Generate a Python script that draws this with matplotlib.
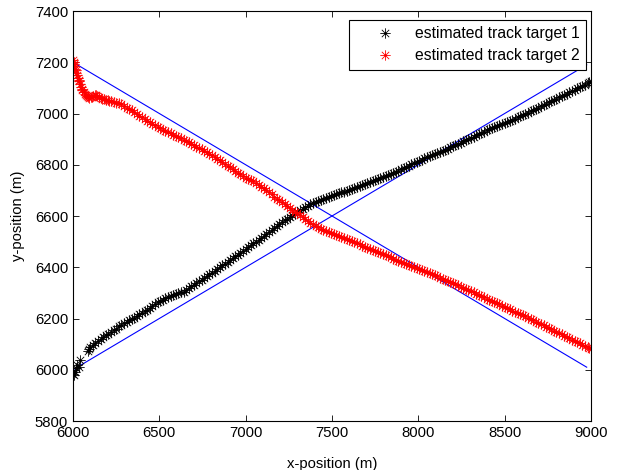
import numpy as np
import matplotlib
matplotlib.use('Agg')
import matplotlib.pyplot as plt
from matplotlib.path import Path

plt.rcParams['font.family'] = ['Liberation Sans', 'DejaVu Sans']
plt.rcParams['font.size'] = 10.7

# true tracks (blue lines)
true_x = [6000, 8975]
true1_y = [6000, 7190]
true2_y = [7200, 6010]

# estimated track target 1 (black)
est1_x = [6000, 6006, 6012, 6018, 6025, 6032, 6040, 6085, 6092, 6100, 6115, 6130, 6145, 6160, 6175,
          6190, 6205, 6220, 6235, 6250, 6265, 6280, 6295, 6310, 6325, 6340, 6355, 6370, 6385, 6400,
          6415, 6430, 6445, 6460, 6475, 6490, 6505, 6520, 6535, 6550, 6565, 6580, 6595, 6610, 6625,
          6640, 6655, 6670, 6685, 6700, 6715, 6730, 6745, 6760, 6775, 6790, 6805, 6820, 6835, 6850,
          6865, 6880, 6895, 6910, 6925, 6940, 6955, 6970, 6985, 7000, 7015, 7030, 7045, 7060, 7075,
          7090, 7105, 7120, 7135, 7150, 7165, 7180, 7195, 7210, 7225, 7240, 7255, 7270, 7285, 7300,
          7315, 7330, 7345, 7360, 7375, 7390, 7405, 7420, 7435, 7450, 7465, 7480, 7495, 7510, 7525,
          7540, 7555, 7570, 7585, 7600, 7615, 7630, 7645, 7660, 7675, 7690, 7705, 7720, 7735, 7750,
          7765, 7780, 7795, 7810, 7825, 7840, 7855, 7870, 7885, 7900, 7915, 7930, 7945, 7960, 7975,
          7990, 8005, 8020, 8035, 8050, 8065, 8080, 8095, 8110, 8125, 8140, 8155, 8170, 8185, 8200,
          8215, 8230, 8245, 8260, 8275, 8290, 8305, 8320, 8335, 8350, 8365, 8380, 8395, 8410, 8425,
          8440, 8455, 8470, 8485, 8500, 8515, 8530, 8545, 8560, 8575, 8590, 8605, 8620, 8635, 8650,
          8665, 8680, 8695, 8710, 8725, 8740, 8755, 8770, 8785, 8800, 8815, 8830, 8845, 8860, 8875,
          8890, 8905, 8920, 8935, 8950, 8965, 8980, 8990, 9000]
est1_y = [5985, 5978, 5991, 6005, 6020, 6012, 6037, 6075, 6082, 6088, 6098, 6104, 6113, 6120, 6128,
          6135, 6140, 6146, 6154, 6160, 6169, 6176, 6181, 6188, 6195, 6200, 6203, 6208, 6216, 6222,
          6228, 6234, 6242, 6248, 6256, 6263, 6268, 6272, 6279, 6283, 6288, 6292, 6296, 6300, 6302,
          6305, 6312, 6318, 6325, 6332, 6338, 6345, 6352, 6358, 6365, 6372, 6379, 6386, 6393, 6400,
          6407, 6414, 6421, 6428, 6435, 6442, 6449, 6456, 6463, 6470, 6478, 6485, 6493, 6500, 6508,
          6515, 6523, 6530, 6538, 6545, 6553, 6560, 6568, 6575, 6583, 6590, 6597, 6603, 6609, 6615,
          6622, 6628, 6634, 6640, 6645, 6650, 6655, 6660, 6664, 6667, 6671, 6674, 6678, 6681, 6685,
          6688, 6692, 6695, 6699, 6703, 6706, 6710, 6714, 6718, 6722, 6726, 6729, 6733, 6736, 6740,
          6744, 6748, 6752, 6756, 6761, 6765, 6769, 6773, 6777, 6782, 6787, 6792, 6797, 6802, 6807,
          6812, 6816, 6820, 6825, 6830, 6834, 6838, 6843, 6847, 6851, 6855, 6859, 6863, 6868, 6872,
          6876, 6881, 6886, 6891, 6895, 6900, 6905, 6910, 6915, 6920, 6925, 6929, 6934, 6938, 6942,
          6946, 6951, 6955, 6959, 6963, 6968, 6972, 6976, 6980, 6985, 6989, 6994, 6998, 7003, 7008,
          7013, 7018, 7023, 7028, 7033, 7038, 7043, 7048, 7053, 7058, 7063, 7068, 7073, 7078, 7083,
          7088, 7093, 7098, 7103, 7108, 7113, 7118, 7121, 7125]

# estimated track target 2 (red)
est2_x = [6000, 6003, 6005, 6008, 6012, 6016, 6020, 6024, 6028, 6032, 6036, 6040, 6045, 6050, 6055,
          6062, 6068, 6074, 6080, 6088, 6095, 6103, 6110, 6118, 6125, 6133, 6140, 6150, 6160, 6170,
          6180, 6190, 6200, 6210, 6220, 6235, 6250, 6265, 6280, 6295, 6310, 6325, 6340, 6355, 6370,
          6385, 6400, 6415, 6430, 6445, 6460, 6475, 6490, 6505, 6520, 6535, 6550, 6565, 6580, 6595,
          6610, 6625, 6640, 6655, 6670, 6685, 6700, 6715, 6730, 6745, 6760, 6775, 6790, 6805, 6820,
          6835, 6850, 6865, 6880, 6895, 6910, 6925, 6940, 6955, 6970, 6985, 7000, 7015, 7030, 7045,
          7060, 7075, 7090, 7105, 7120, 7135, 7150, 7165, 7180, 7195, 7210, 7225, 7240, 7255, 7270,
          7285, 7300, 7315, 7330, 7345, 7360, 7375, 7390, 7405, 7420, 7435, 7450, 7465, 7480, 7495,
          7510, 7525, 7540, 7555, 7570, 7585, 7600, 7615, 7630, 7645, 7660, 7675, 7690, 7705, 7720,
          7735, 7750, 7765, 7780, 7795, 7810, 7825, 7840, 7855, 7870, 7885, 7900, 7915, 7930, 7945,
          7960, 7975, 7990, 8005, 8020, 8035, 8050, 8065, 8080, 8095, 8110, 8125, 8140, 8155, 8170,
          8185, 8200, 8215, 8230, 8245, 8260, 8275, 8290, 8305, 8320, 8335, 8350, 8365, 8380, 8395,
          8410, 8425, 8440, 8455, 8470, 8485, 8500, 8515, 8530, 8545, 8560, 8575, 8590, 8605, 8620,
          8635, 8650, 8665, 8680, 8695, 8710, 8725, 8740, 8755, 8770, 8785, 8800, 8815, 8830, 8845,
          8860, 8875, 8890, 8905, 8920, 8935, 8950, 8965, 8980, 8990, 9000]
est2_y = [7210, 7202, 7195, 7185, 7175, 7168, 7160, 7150, 7140, 7132, 7125, 7115, 7105, 7097, 7090,
          7083, 7078, 7072, 7068, 7064, 7062, 7063, 7066, 7070, 7072, 7073, 7070, 7066, 7062, 7058,
          7055, 7054, 7052, 7050, 7048, 7045, 7042, 7040, 7036, 7030, 7022, 7017, 7012, 7006, 7000,
          6992, 6985, 6978, 6972, 6966, 6960, 6954, 6948, 6942, 6937, 6932, 6928, 6923, 6918, 6913,
          6908, 6903, 6898, 6893, 6888, 6882, 6876, 6870, 6865, 6860, 6855, 6849, 6843, 6837, 6830,
          6824, 6818, 6811, 6804, 6797, 6790, 6782, 6775, 6768, 6762, 6756, 6750, 6745, 6740, 6735,
          6730, 6722, 6715, 6708, 6700, 6693, 6685, 6676, 6668, 6662, 6655, 6648, 6640, 6632, 6625,
          6617, 6610, 6602, 6595, 6587, 6580, 6574, 6568, 6562, 6556, 6551, 6546, 6542, 6538, 6534,
          6530, 6526, 6522, 6517, 6513, 6509, 6505, 6501, 6497, 6493, 6489, 6484, 6480, 6476, 6472,
          6467, 6463, 6459, 6455, 6451, 6447, 6443, 6439, 6434, 6430, 6425, 6421, 6417, 6413, 6409,
          6405, 6401, 6397, 6394, 6390, 6386, 6382, 6377, 6373, 6368, 6364, 6359, 6355, 6350, 6346,
          6342, 6338, 6333, 6329, 6324, 6320, 6315, 6311, 6306, 6302, 6297, 6292, 6287, 6283, 6278,
          6274, 6269, 6264, 6259, 6255, 6250, 6246, 6241, 6236, 6231, 6227, 6222, 6217, 6212, 6208,
          6203, 6198, 6193, 6188, 6183, 6178, 6173, 6168, 6163, 6158, 6153, 6148, 6143, 6138, 6133,
          6128, 6123, 6118, 6113, 6108, 6103, 6098, 6093, 6088, 6084, 6080]

# matlab style asterisk marker (+ and x on top of each other)
d = 0.7071
asterisk = Path([(-1, 0), (1, 0), (0, -1), (0, 1), (-d, -d), (d, d), (-d, d), (d, -d)],
                [Path.MOVETO, Path.LINETO] * 4)

fig = plt.figure(figsize=(6.28, 4.70), dpi=100)
ax = fig.add_axes([73/628, 49/470, 518/628, 410/470])

ax.plot(true_x, true1_y, color='b', lw=0.8)
ax.plot(true_x, true2_y, color='b', lw=0.8)
ax.plot(est1_x, est1_y, ls='none', marker=asterisk, ms=7.5, mec='k', mfc='none', mew=0.6,
        label='estimated track target 1')
ax.plot(est2_x, est2_y, ls='none', marker=asterisk, ms=7.5, mec='r', mfc='none', mew=0.6,
        label='estimated track target 2')

ax.set_xlim(6000, 9000)
ax.set_ylim(5800, 7400)
ax.set_xticks(np.arange(6000, 9001, 500))
ax.set_yticks(np.arange(5800, 7401, 200))
ax.tick_params(direction='in', length=4, width=0.6, top=True, right=True, pad=3.5)
for s in ax.spines.values():
    s.set_linewidth(0.8)

ax.set_xlabel('x-position (m)')
ax.set_ylabel('y-position (m)')
ax.xaxis.set_label_coords(0.5, -0.088)
ax.yaxis.set_label_coords(-0.093, 0.5)

leg = ax.legend(loc='upper right', bbox_to_anchor=(0.990, 0.978), borderaxespad=0,
                fancybox=False, edgecolor='k', framealpha=1, handlelength=3.8,
                handletextpad=0.0, borderpad=0.4, labelspacing=0.45, fontsize=11.3)
leg.get_frame().set_linewidth(0.8)

fig.savefig('out.png', dpi=100)
